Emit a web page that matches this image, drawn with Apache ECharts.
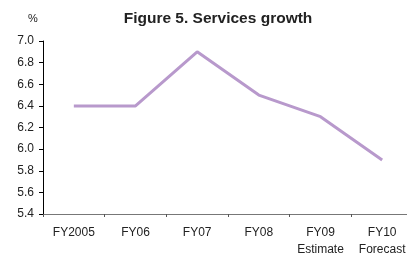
<!DOCTYPE html>
<html><head><meta charset="utf-8">
<script src="https://cdn.jsdelivr.net/npm/echarts@6/dist/echarts.min.js"></script>
<style>html,body{margin:0;padding:0;background:#fff}#c{width:407px;height:254px}</style>
</head><body><div id="c"></div>
<script>
var categories = ['FY2005', 'FY06', 'FY07', 'FY08', 'FY09\nEstimate', 'FY10\nForecast'];
var growth = [6.4, 6.4, 6.9, 6.5, 6.3, 5.9];
var chart = echarts.init(document.getElementById('c'), null, {renderer: 'canvas'});
chart.setOption({
  animation: false,
  backgroundColor: '#fff',
  title: {
    text: 'Figure 5. Services growth',
    left: 213, top: 6, textAlign: 'center',
    textStyle: {fontFamily: 'Liberation Sans', fontSize: 15.5, fontWeight: 'bold', color: '#222'}
  },
  grid: {left: 43, top: 41, width: 370, height: 173, containLabel: false, outerBoundsMode: 'none'},
  xAxis: {
    type: 'category', data: categories, boundaryGap: true,
    axisLine: {lineStyle: {color: '#777', width: 1}},
    axisTick: {show: true, length: 3, lineStyle: {color: '#555'}},
    axisLabel: {fontFamily: 'Liberation Sans', fontSize: 12, color: '#222', margin: 10, lineHeight: 17, interval: 0}
  },
  yAxis: {
    type: 'value', min: 5.4, max: 7.0, interval: 0.2,
    name: '%', nameLocation: 'end', nameGap: 17,
    nameTextStyle: {fontFamily: 'Liberation Sans', fontSize: 11, color: '#222', align: 'center', padding: [0, 20, 0, 0]},
    axisLine: {show: true, lineStyle: {color: '#000', width: 1}},
    axisTick: {show: true, length: 4, lineStyle: {color: '#000'}},
    splitLine: {show: false},
    axisLabel: {fontFamily: 'Liberation Sans', fontSize: 12, color: '#222', margin: 9,
      formatter: function (v) { return v.toFixed(1); }}
  },
  series: [{
    type: 'line', data: growth, symbol: 'none',
    lineStyle: {color: '#b899cc', width: 3}
  }]
});
</script></body></html>
